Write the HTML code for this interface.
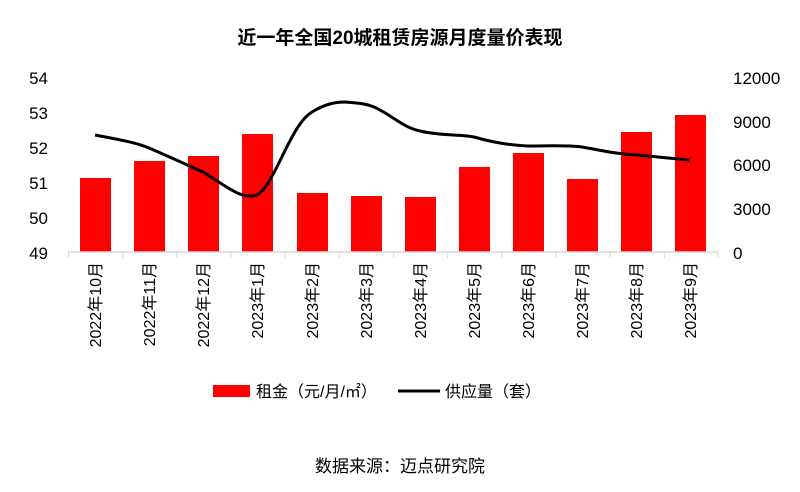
<!DOCTYPE html>
<html><head><meta charset="utf-8"><style>
html,body{margin:0;padding:0;background:#fff;}
svg text{font-family:"Liberation Sans","Noto Sans CJK SC",sans-serif;fill:#000;}
</style></head><body>
<svg width="800" height="487" viewBox="0 0 800 487" xmlns="http://www.w3.org/2000/svg">
<text x="400" y="44" font-size="19" font-weight="bold" text-anchor="middle">近一年全国20城租赁房源月度量价表现</text>
<g font-size="17" text-anchor="end">
<text x="48" y="84">54</text><text x="48" y="119">53</text><text x="48" y="154">52</text>
<text x="48" y="189">51</text><text x="48" y="224">50</text><text x="48" y="259">49</text>
</g>
<g font-size="17" text-anchor="start">
<text x="733" y="84">12000</text><text x="733" y="128">9000</text><text x="733" y="171">6000</text>
<text x="733" y="215">3000</text><text x="733" y="259">0</text>
</g>
<g fill="#ff0000">
<rect x="80" y="178" width="31" height="74"/>
<rect x="134" y="161" width="31" height="91"/>
<rect x="188" y="156" width="31" height="96"/>
<rect x="242" y="134" width="31" height="118"/>
<rect x="297" y="193" width="31" height="59"/>
<rect x="351" y="196" width="31" height="56"/>
<rect x="405" y="197" width="31" height="55"/>
<rect x="459" y="167" width="31" height="85"/>
<rect x="513" y="153" width="31" height="99"/>
<rect x="567" y="179" width="31" height="73"/>
<rect x="621" y="132" width="31" height="120"/>
<rect x="675" y="115" width="31" height="137"/>
</g>
<line x1="68" y1="252" x2="718" y2="252" stroke="#d9d9d9" stroke-width="1.5"/>
<g stroke="#d9d9d9" stroke-width="1">
<line x1="68.5" y1="252" x2="68.5" y2="258"/><line x1="122.7" y1="252" x2="122.7" y2="258"/>
<line x1="176.8" y1="252" x2="176.8" y2="258"/><line x1="231" y1="252" x2="231" y2="258"/>
<line x1="285" y1="252" x2="285" y2="258"/><line x1="339.3" y1="252" x2="339.3" y2="258"/>
<line x1="393.5" y1="252" x2="393.5" y2="258"/><line x1="447.7" y1="252" x2="447.7" y2="258"/>
<line x1="501.8" y1="252" x2="501.8" y2="258"/><line x1="556" y1="252" x2="556" y2="258"/>
<line x1="610" y1="252" x2="610" y2="258"/><line x1="664.3" y1="252" x2="664.3" y2="258"/>
<line x1="718" y1="252" x2="718" y2="258"/>
</g>
<path d="M95,135 C115,139 135,142 149,148 C170,157 185,164 203,172 C225,185 240,200 257,195 C275,185 290,125 312,112 C325,104 335,102 345,102 C360,103 370,104 380,110 C395,118 405,128 420,131 C440,136 460,134 474,137 C495,143 510,145 528,146 C550,146 565,145 582,147 C600,150 615,154 636,155 C660,157 675,159 690,160" fill="none" stroke="#000" stroke-width="3"/>
<g font-size="16" text-anchor="end">
<text transform="translate(101,262) rotate(-90)">2022年10月</text>
<text transform="translate(155,262) rotate(-90)">2022年11月</text>
<text transform="translate(209,262) rotate(-90)">2022年12月</text>
<text transform="translate(263,262) rotate(-90)">2023年1月</text>
<text transform="translate(318,262) rotate(-90)">2023年2月</text>
<text transform="translate(372,262) rotate(-90)">2023年3月</text>
<text transform="translate(426,262) rotate(-90)">2023年4月</text>
<text transform="translate(480,262) rotate(-90)">2023年5月</text>
<text transform="translate(534,262) rotate(-90)">2023年6月</text>
<text transform="translate(588,262) rotate(-90)">2023年7月</text>
<text transform="translate(642,262) rotate(-90)">2023年8月</text>
<text transform="translate(696,262) rotate(-90)">2023年9月</text>
</g>
<rect x="213" y="385" width="37" height="12" fill="#ff0000"/>
<text x="256" y="397" font-size="16">租金（元/月/㎡）</text>
<line x1="398" y1="391" x2="440" y2="391" stroke="#000" stroke-width="3"/>
<text x="445" y="397" font-size="16">供应量（套）</text>
<text x="400" y="472" font-size="17" text-anchor="middle">数据来源：迈点研究院</text>
</svg>
</body></html>
